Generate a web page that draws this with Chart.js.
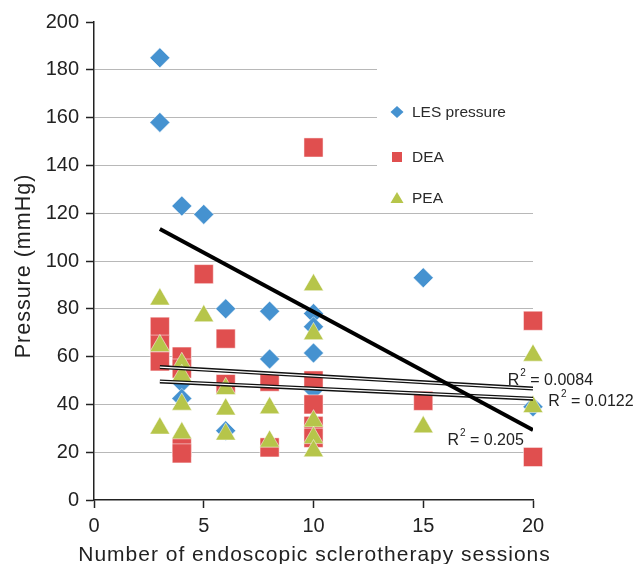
<!DOCTYPE html>
<html>
<head>
<meta charset="utf-8">
<script src="https://cdn.jsdelivr.net/npm/chart.js@4.4.0/dist/chart.umd.min.js"></script>
<style>
  html, body { margin: 0; padding: 0; background: #fff; }
  #wrap { width: 636px; height: 564px; }
</style>
</head>
<body>
<div id="wrap"><canvas id="chart"></canvas></div>
<script>
// sessions (x) and pressures (y, mmHg) per group
const lesX = [3, 3, 4, 4, 4, 5, 6, 6, 8, 8, 10, 10, 10, 10, 15, 20];
const lesY = [185, 158, 123, 49, 42.5, 119.5, 80, 29, 79, 59, 78, 72.5, 61.5, 46, 93, 39];

const deaX = [3, 3, 3, 4, 4, 4, 4, 5, 6, 6, 8, 8, 10, 10, 10, 10, 10, 15, 20, 20];
const deaY = [72.5, 65, 58, 60, 55, 22, 19.5, 94.5, 67.5, 48.5, 49.5, 22, 147.5, 50, 40, 31, 26, 41.5, 75, 18];

const peaX = [3, 3, 3, 4, 4, 4, 4, 5, 6, 6, 6, 8, 8, 10, 10, 10, 10, 10, 15, 20, 20];
const peaY = [84, 64.5, 30, 57, 52, 40, 28, 77, 46.5, 38, 27.5, 38.5, 24.5, 90, 69.5, 33, 26, 20.5, 30.5, 60.5, 39];

// trend lines (start/end)
const trendX = [3, 20];
const lesTrend = [113.4, 29.3];
const deaTrend = [55.6, 46.6];
const peaTrend = [49.6, 42.4];
const r2Labels = ["0.0084", "0.0122", "0.205"];

const yTicks = [0, 20, 40, 60, 80, 100, 120, 140, 160, 180, 200];

const xTitle = "Number of endoscopic sclerotherapy sessions";
const yTitle = "Pressure (mmHg)";

const FONT = "'Liberation Sans', Arial, sans-serif";
const BLUE = "#4592d0", RED = "#e04f4f", GREEN = "#b6c54a";

const pts = (xs, ys) => xs.map((x, i) => ({ x: x, y: ys[i] }));

// where the R² texts sit, in axis units (left edge, baseline)
const r2Pos = [[18.85, 48], [20.7, 39.3], [16.1, 23]];

const legendItems = [
    { text: "LES pressure", shape: "diamond", color: BLUE },
    { text: "DEA", shape: "square", color: RED },
    { text: "PEA", shape: "triangle", color: GREEN }
];

const overlay = {
    id: "overlay",
    beforeDatasetsDraw(chart) {
        const ctx = chart.ctx, a = chart.chartArea;
        ctx.save();
        // legend box hides the gridlines behind it
        ctx.fillStyle = "#fff";
        ctx.fillRect(a.left + 283, a.top + 1, a.right - a.left - 283 + 2, 185);
        ctx.font = "15.5px " + FONT;
        ctx.textBaseline = "middle";
        legendItems.forEach((it, i) => {
            const cx = a.left + 303, cy = a.top + 90 + [0, 45, 86][i];
            ctx.fillStyle = it.color;
            ctx.beginPath();
            if (it.shape === "diamond") {
                ctx.moveTo(cx, cy - 6); ctx.lineTo(cx + 6.5, cy); ctx.lineTo(cx, cy + 6); ctx.lineTo(cx - 6.5, cy);
            } else if (it.shape === "square") {
                ctx.rect(cx - 5, cy - 5, 10, 10);
            } else {
                ctx.moveTo(cx, cy - 6); ctx.lineTo(cx + 6.5, cy + 5); ctx.lineTo(cx - 6.5, cy + 5);
            }
            ctx.closePath();
            ctx.fill();
            ctx.fillStyle = "#2a2a2a";
            ctx.fillText(it.text, cx + 15, cy + 1);
        });
        ctx.restore();
    },
    afterDatasetsDraw(chart) {
        const ctx = chart.ctx, a = chart.chartArea;
        const xs = chart.scales.x, ys = chart.scales.y;
        ctx.save();
        ctx.fillStyle = "#222";
        ctx.textBaseline = "alphabetic";
        r2Labels.forEach((v, i) => {
            let px = xs.getPixelForValue(r2Pos[i][0]);
            const py = ys.getPixelForValue(r2Pos[i][1]);
            ctx.font = "16px " + FONT;
            ctx.fillText("R", px, py);
            px += ctx.measureText("R").width;
            ctx.font = "10px " + FONT;
            ctx.fillText("2", px + 1, py - 9);
            px += ctx.measureText("2").width + 1;
            ctx.font = "16px " + FONT;
            ctx.fillText(" = " + v, px, py);
        });

        // axis titles, slightly letter-spaced like the original
        ctx.fillStyle = "#222";
        ctx.textAlign = "center";
        ctx.letterSpacing = "1px";
        ctx.font = "21px " + FONT;
        ctx.fillText(xTitle, (a.left + a.right) / 2 + 1, chart.height - 3);
        ctx.translate(30, (a.top + a.bottom) / 2 + 5);
        ctx.rotate(-Math.PI / 2);
        ctx.font = "21.5px " + FONT;
        ctx.fillText(yTitle, 0, 0);
        ctx.restore();
    }
};

const lineSet = (vals, color, width, order) => ({
    type: "line",
    data: pts(trendX, vals),
    borderColor: color,
    borderWidth: width,
    pointRadius: 0,
    fill: false,
    order: order
});

new Chart(document.getElementById("chart"), {
    type: "scatter",
    data: {
        datasets: [
            { label: "LES pressure", data: pts(lesX, lesY), pointStyle: "rectRot", pointRadius: 10, clip: false,
              backgroundColor: BLUE, borderColor: "rgba(255,255,255,0.5)", borderWidth: 1, order: 6 },
            { label: "DEA", data: pts(deaX, deaY), pointStyle: "rect", pointRadius: 13.5, clip: false,
              backgroundColor: RED, borderColor: "rgba(255,255,255,0.5)", borderWidth: 1, order: 5 },
            { label: "PEA", data: pts(peaX, peaY), pointStyle: "triangle", pointRadius: 11.5, clip: false,
              backgroundColor: GREEN, borderColor: "rgba(255,255,255,0.5)", borderWidth: 1, order: 4 },
            lineSet(deaTrend, "#111", 4, 3),
            lineSet(deaTrend, "#fff", 1.2, 2),
            lineSet(peaTrend, "#111", 4, 3),
            lineSet(peaTrend, "#fff", 1.2, 2),
            lineSet(lesTrend, "#000", 4, 1)
        ]
    },
    options: {
        responsive: true,
        maintainAspectRatio: false,
        animation: false,
        layout: { padding: { top: 22, right: 103, left: 0, bottom: 0 } },
        plugins: { legend: { display: false }, tooltip: { enabled: false } },
        scales: {
            x: {
                type: "linear",
                min: 0, max: 20,
                afterFit: s => { s.height = 64; },
                ticks: { stepSize: 5, color: "#222", padding: 6, font: { family: FONT, size: 20 } },
                grid: { drawOnChartArea: false, drawTicks: true, tickLength: 8, tickColor: "#222", tickWidth: 1.5 },
                border: { color: "#222", width: 1.5 }
            },
            y: {
                min: 0, max: 200,
                afterFit: s => { s.width = 94; },
                afterBuildTicks: s => { s.ticks = yTicks.map(v => ({ value: v })); },
                ticks: { color: "#222", padding: 7, font: { family: FONT, size: 20 } },
                grid: {
                    color: c => (c.tick && (c.tick.value === 0 || c.tick.value === 200)) ? "rgba(0,0,0,0)" : "#b8b8b8",
                    lineWidth: 1, drawTicks: true, tickLength: 8, tickColor: "#222", tickWidth: 1.5
                },
                border: { color: "#222", width: 1.5 }
            }
        }
    },
    plugins: [overlay]
});
</script>
</body>
</html>
